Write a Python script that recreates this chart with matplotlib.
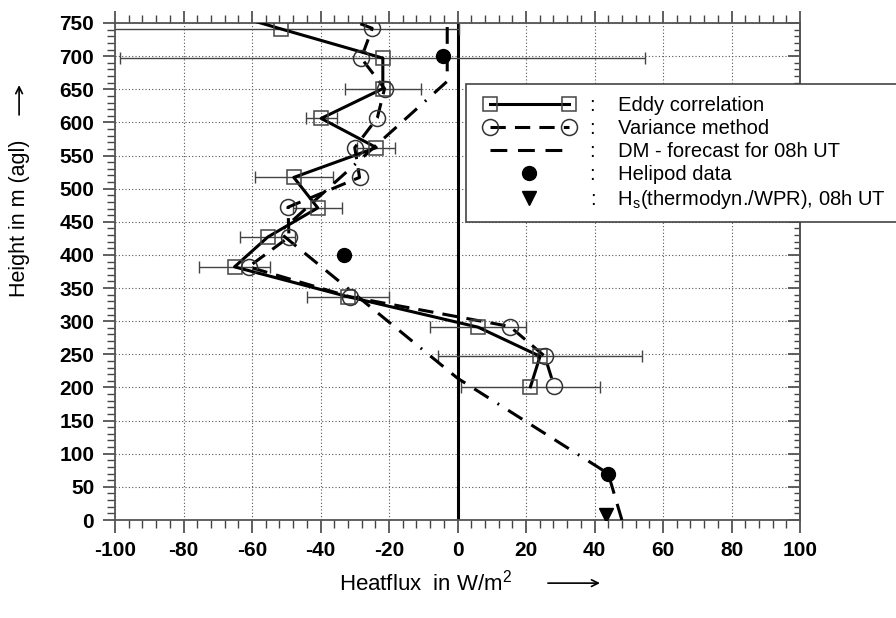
import numpy as np
import matplotlib
matplotlib.use("Agg")
import matplotlib.pyplot as plt
from matplotlib.lines import Line2D
from matplotlib.patches import Rectangle
from matplotlib.ticker import MultipleLocator
from matplotlib.legend_handler import HandlerLine2D

plt.rcParams['font.family'] = ['Liberation Sans', 'DejaVu Sans']
plt.rcParams['mathtext.fontset'] = 'custom'
plt.rcParams['mathtext.rm'] = 'Liberation Sans'
plt.rcParams['axes.unicode_minus'] = False

# ---- data ----
ec_height = [775, 741, 697, 651, 606, 562, 517, 471, 427, 382, 337, 291, 247, 201]
ec_flux = [-74.0, -51.5, -21.8, -21.8, -39.8, -23.7, -47.8, -40.8, -55.4, -65.1, -32.0, 6.0, 24.1, 21.3]
ec_err = [np.nan, 52.0, 76.6, 11.0, 4.5, 5.5, 11.4, 7.2, 8.0, 10.4, 12.0, 14.0, 29.7, 20.3]

vm_height = [775, 742, 697, 651, 607, 562, 517, 472, 427, 382, 337, 292, 247, 202]
vm_flux = [-41.7, -24.9, -28.1, -21.3, -23.4, -30.0, -28.6, -49.5, -49.2, -61.0, -31.5, 15.3, 25.5, 28.2]

dm_height = [0, 70, 214, 434, 662, 750]
dm_flux = [48.0, 44.0, 0.0, -52.0, -3.0, -3.0]

heli_height = [700, 400, 70]
heli_flux = [-4.2, -33.2, 44.0]

hs_height = [8]
hs_flux = [43.3]

xticks = list(range(-100, 101, 20))
yticks = list(range(0, 751, 50))

# ---- figure ----
fig = plt.figure(figsize=(8.96, 6.18), dpi=100)
ax = fig.add_axes([115/896, 1-520/618, 685/896, 497/618])

ax.set_xlim(-100, 100)
ax.set_ylim(0, 750)

ax.grid(which='major', ls=(0, (1, 2)), color='#555', lw=0.8, zorder=0)
ax.axvline(0, color='black', lw=2.2, zorder=2)

dm_style = (0, (5.5, 3.5, 5.5, 3.5, 5.5, 3.5, 0.6, 3.5))
ax.plot(dm_flux, dm_height, color='black', lw=2.2, ls=dm_style, zorder=3)

ax.errorbar(ec_flux, ec_height, xerr=ec_err, fmt='none', ecolor='#444',
            elinewidth=1.0, capsize=4.5, capthick=1.0, zorder=2)
ax.plot(ec_flux, ec_height, color='black', lw=2.2, zorder=4)
ax.plot(ec_flux, ec_height, ls='none', marker='s', ms=10, mfc='none',
        mec='#444', mew=1.1, zorder=5)

vm_style = (0, (5, 3))
ax.plot(vm_flux, vm_height, color='black', lw=2.2, ls=vm_style, zorder=4)
ax.plot(vm_flux, vm_height, ls='none', marker='o', ms=11.5, mfc='none',
        mec='#333', mew=1.1, zorder=5)

ax.plot(heli_flux, heli_height, ls='none', marker='o', ms=10, color='black', zorder=6)
ax.plot(hs_flux, hs_height, ls='none', marker='v', ms=10, color='black', zorder=6)

# axes & ticks
for s in ax.spines.values():
    s.set_color('#555')
    s.set_linewidth(1.3)
ax.set_xticks(xticks)
ax.set_yticks(yticks)
ax.xaxis.set_minor_locator(MultipleLocator(4))
ax.yaxis.set_minor_locator(MultipleLocator(10))
ax.tick_params(axis='x', which='both', direction='out', top=True, bottom=True,
               colors='#444', labelcolor='black')
ax.tick_params(axis='y', which='both', direction='out', left=True, right=False,
               colors='#444', labelcolor='black')
ax.tick_params(which='major', length=9, width=1.2, labelsize=15, pad=6)
ax.tick_params(which='minor', length=5.5, width=1.0)
for lab in ax.get_xticklabels() + ax.get_yticklabels():
    lab.set_fontweight('bold')

sec = ax.secondary_yaxis('right')
sec.set_yticks(yticks)
sec.yaxis.set_minor_locator(MultipleLocator(10))
sec.tick_params(which='both', direction='in', labelright=False, colors='#444')
sec.tick_params(which='major', length=9, width=1.2)
sec.tick_params(which='minor', length=4.5, width=1.0)
sec.spines['right'].set_color('#555')
sec.spines['right'].set_linewidth(1.3)

# axis labels
fig.text(426/896, 1-583/618, 'Heatflux  in W/m$^\\mathregular{2}$', ha='center', va='center',
         fontsize=16)
ax.annotate('', xy=(0.708, -0.127), xytext=(0.632, -0.127), xycoords='axes fraction',
            arrowprops=dict(arrowstyle='->', lw=1.2, color='black',
                            shrinkA=0, shrinkB=0, mutation_scale=12),
            annotation_clip=False)
fig.text(19/896, 1-218/618, 'Height in m (agl)', rotation=90, ha='center', va='center',
         fontsize=15.5)
ax.annotate('', xy=(-0.14, 0.875), xytext=(-0.14, 0.815), xycoords='axes fraction',
            arrowprops=dict(arrowstyle='->', lw=1.2, color='black',
                            shrinkA=0, shrinkB=0, mutation_scale=12),
            annotation_clip=False)

# legend box
box = Rectangle((466/896, 1-222/618), 440/896, 138/618, transform=fig.transFigure,
                facecolor='white', edgecolor='#444', lw=1.2, zorder=8)
fig.add_artist(box)

h_ec = Line2D([], [], color='black', lw=2.2, marker='s', ms=10, mfc='none', mec='#444', mew=1.1)
h_vm = Line2D([], [], color='black', lw=2.2, ls=vm_style, marker='o', ms=11.5, mfc='none', mec='#333', mew=1.1)
h_dm = Line2D([], [], color='black', lw=2.2, ls=dm_style)
h_he = Line2D([], [], ls='none', marker='o', ms=10, color='black')
h_hs = Line2D([], [], ls='none', marker='v', ms=10, color='black')
labels = [':    Eddy correlation', ':    Variance method', ':    DM - forecast for 08h UT',
          ':    Helipod data', ':    H$_\\mathregular{s}$(thermodyn./WPR), 08h UT']
leg = fig.legend([h_ec, h_vm, h_dm, h_he, h_hs], labels, loc='upper left',
                 bbox_to_anchor=(484/896, 1-96/618), bbox_transform=fig.transFigure,
                 frameon=False, borderpad=0, borderaxespad=0, fontsize=14.5,
                 handlelength=4.5, handletextpad=0.75, labelspacing=0.2,
                 handler_map={h_ec: HandlerLine2D(numpoints=2), h_vm: HandlerLine2D(numpoints=2),
                              h_dm: HandlerLine2D(numpoints=2), h_he: HandlerLine2D(numpoints=1),
                              h_hs: HandlerLine2D(numpoints=1)})
leg.set_zorder(10)

fig.savefig('out.png', dpi=100)
